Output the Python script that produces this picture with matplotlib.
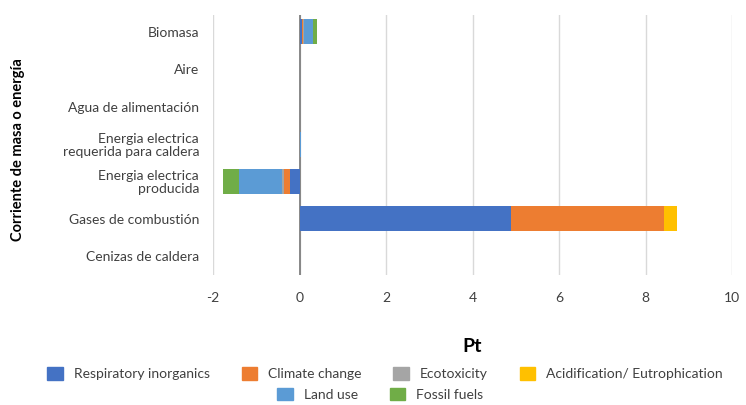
import numpy as np, matplotlib
matplotlib.use("Agg"); import matplotlib.pyplot as plt
from matplotlib.patches import Patch

plt.rcParams["font.family"] = ["Lato", "DejaVu Sans"]
plt.rcParams["axes.unicode_minus"] = False

categorias = ["Biomasa", "Aire", "Agua de alimentación",
              "Energia electrica\nrequerida para caldera", "Energia electrica\nproducida",
              "Gases de combustión", "Cenizas de caldera"]
series = ["Respiratory inorganics", "Climate change", "Ecotoxicity",
          "Acidification/ Eutrophication", "Land use", "Fossil fuels"]
resp    = [0.05, 0, 0, 0,    -0.23, 4.89, 0]
climate = [0.035, 0, 0, 0,   -0.14, 3.53, 0]
ecotox  = [0.02, 0, 0, 0,    -0.03, 0.0, 0]
acid    = [0.0, 0, 0, 0,      0.0, 0.30, 0]
land    = [0.20, 0, 0, 0.04, -1.00, 0.0, 0]
fossil  = [0.10, 0, 0, 0,    -0.37, 0.0, 0]
colores = ["#4472C4", "#ED7D31", "#A5A5A5", "#FFC000", "#5B9BD5", "#70AD47"]

fig = plt.figure(figsize=(7.46, 4.05), dpi=100)
ax = fig.add_axes([0.2855, 0.321, 0.696, 0.642])
y = np.arange(len(categorias))
pos = np.zeros(len(categorias)); neg = np.zeros(len(categorias))
for vals, c in zip([resp, climate, ecotox, acid, land, fossil], colores):
    v = np.array(vals, float)
    left = np.where(v >= 0, pos, neg)
    ax.barh(y, v, left=left, height=0.67, color=c, zorder=3)
    pos += np.where(v >= 0, v, 0); neg += np.where(v < 0, v, 0)

ax.set_xlim(-2, 10); ax.set_ylim(6.5, -0.45)
ax.set_xticks(np.arange(-2, 11, 2))
ax.set_yticks(y); ax.set_yticklabels(categorias, fontsize=10, color="#404040", linespacing=1.05)
ax.tick_params(axis="both", length=0, colors="#404040", labelsize=10)
ax.tick_params(axis="x", pad=12)
ax.tick_params(axis="y", pad=10)
for s in ax.spines.values(): s.set_visible(False)
ax.grid(axis="x", color="#D9D9D9", lw=1, zorder=0)
ax.axvline(0, color="#808080", lw=1.3, zorder=2)
ax.set_xlabel("Pt", fontsize=14, fontweight="bold", labelpad=25)
fig.text(0.024, 0.63, "Corriente de masa o energía", rotation=90, ha="center", va="center",
         fontsize=10.5, fontweight="bold")

h = [Patch(color=c) for c in colores]
kw = dict(frameon=False, fontsize=10, handlelength=1.1, handleheight=1.0,
          handletextpad=0.8, columnspacing=2.3, labelcolor="#404040")
fig.legend(h[:4], series[:4], ncol=4, loc="center", bbox_to_anchor=(0.516, 0.077), **kw)
fig.legend(h[4:], series[4:], ncol=2, loc="center", bbox_to_anchor=(0.51, 0.027), **kw)
plt.savefig("out.png", dpi=100)
